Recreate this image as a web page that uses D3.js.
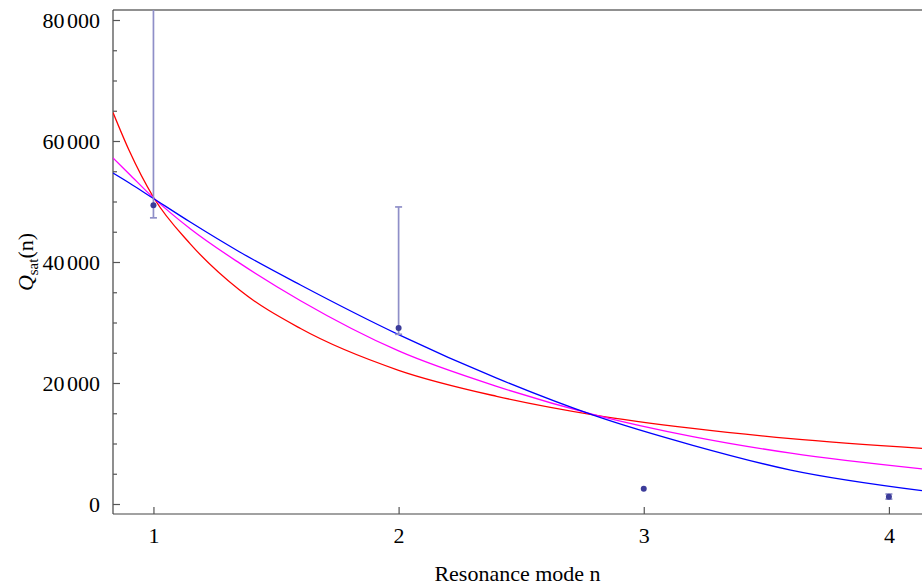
<!DOCTYPE html>
<html>
<head>
<meta charset="utf-8">
<script src="https://cdn.jsdelivr.net/npm/d3@7"></script>
<style>
  html, body { margin: 0; padding: 0; background: #fff; }
  svg { display: block; }
  text { font-family: "Liberation Serif", "Times New Roman", serif; }
</style>
</head>
<body>
<script>
// ---- data ----
const modeN = [1, 2, 3, 4];
const qSat = [49400, 29100, 2500, 1200];
const qLow = [47300, 28050, 2500, 800];
const qHigh = [90000, 49100, 2500, 1650];

const fitN = [0.835, 0.9, 1.0, 1.15, 1.35, 1.6, 2.0, 2.4, 2.8, 3.2, 3.6, 4.135];
const fitRed = [64700, 58500, 50700, 43000, 35400, 29000, 22100, 17800, 14700, 12500, 10800, 9200];
const fitMagenta = [57200, 54600, 50600, 45500, 39850, 33600, 25300, 19450, 14750, 11150, 8400, 5800];
const fitBlue = [54700, 53100, 50500, 46600, 41700, 36200, 28000, 20800, 14600, 9700, 5600, 2200];

const xTicks = [1, 2, 3, 4];
const yTicks = [0, 20000, 40000, 60000, 80000];
const yMinorTicks = [5000, 10000, 15000, 25000, 30000, 35000, 45000, 50000, 55000, 65000, 70000, 75000];
const xLabel = "Resonance mode n";

// ---- layout ----
const W = 922, H = 587;
const L = 113, R = 922, T = 10, B = 514;

const svg = d3.select("body").append("svg").attr("width", W).attr("height", H);

const x = d3.scaleLinear().domain([0.835, 4.135]).range([L, R]);
const y = d3.scaleLinear().domain([-1653, 81653]).range([B, T]);

svg.append("defs").append("clipPath").attr("id", "clip")
  .append("rect").attr("x", L).attr("y", T).attr("width", R - L).attr("height", B - T);

// axes frame
svg.append("line").attr("x1", L).attr("x2", R).attr("y1", T).attr("y2", T)
  .attr("stroke", "#222").attr("stroke-width", 1.2);
svg.append("line").attr("x1", L).attr("x2", R).attr("y1", B).attr("y2", B)
  .attr("stroke", "#444").attr("stroke-width", 1.2);
svg.append("line").attr("x1", L).attr("x2", L).attr("y1", T).attr("y2", B)
  .attr("stroke", "#444").attr("stroke-width", 1.2);

// y ticks
const yAxis = d3.axisLeft(y).tickValues(yTicks).tickSize(-7).tickPadding(13).tickFormat(d3.format("d"));
const gy = svg.append("g").attr("transform", `translate(${L},0)`).call(yAxis);
gy.select(".domain").remove();
gy.selectAll(".tick line").attr("stroke", "#555").attr("stroke-width", 1.2);
gy.selectAll(".tick text").attr("font-size", 22).attr("fill", "#000")
  .attr("font-family", "Liberation Serif, serif")
  .each(function (v) {
    const s = String(v);
    const t = d3.select(this).text(null);
    if (s.length > 3) {
      t.append("tspan").text(s.slice(0, s.length - 3));
      t.append("tspan").attr("dx", 2.5).text(s.slice(-3));
    } else {
      t.append("tspan").text(s);
    }
  });
const yAxisMinor = d3.axisLeft(y).tickValues(yMinorTicks).tickSize(-4).tickFormat("");
const gym = svg.append("g").attr("transform", `translate(${L},0)`).call(yAxisMinor);
gym.select(".domain").remove();
gym.selectAll(".tick line").attr("stroke", "#555").attr("stroke-width", 1.2);

// x ticks
const xAxis = d3.axisBottom(x).tickValues(xTicks).tickSize(-7).tickPadding(13).tickFormat(d3.format("d"));
const gx = svg.append("g").attr("transform", `translate(0,${B})`).call(xAxis);
gx.select(".domain").remove();
gx.selectAll(".tick line").attr("stroke", "#555").attr("stroke-width", 1.2);
gx.selectAll(".tick text").attr("font-size", 22).attr("fill", "#000")
  .attr("font-family", "Liberation Serif, serif");

// axis labels
svg.append("text").attr("x", (L + R) / 2).attr("y", 581)
  .attr("text-anchor", "middle").attr("font-size", 22).text(xLabel);

const yl = svg.append("text").attr("transform", `translate(33,${(T + B) / 2}) rotate(-90)`)
  .attr("text-anchor", "middle").attr("font-size", 22);
yl.append("tspan").attr("font-style", "italic").text("Q");
yl.append("tspan").attr("font-size", 15).attr("dy", 5).text("sat");
yl.append("tspan").attr("dy", -5).text("(n)");

// fit curves
const plot = svg.append("g").attr("clip-path", "url(#clip)");
const line = d3.line().x(d => x(d[0])).y(d => y(d[1])).curve(d3.curveMonotoneX);
[[fitRed, "#ff0000"], [fitMagenta, "#ff00ff"], [fitBlue, "#0000ff"]].forEach(([vals, col]) => {
  plot.append("path").datum(fitN.map((n, i) => [n, vals[i]]))
    .attr("d", line).attr("fill", "none").attr("stroke", col).attr("stroke-width", 1.3);
});

// error bars
const pts = modeN.map((n, i) => ({ n, v: qSat[i], lo: qLow[i], hi: qHigh[i] }));
const eb = plot.selectAll("g.eb").data(pts.filter(d => d.hi > d.lo)).enter().append("g");
const ebCol = "#8f8fc8";
eb.append("line").attr("x1", d => x(d.n)).attr("x2", d => x(d.n))
  .attr("y1", d => y(d.lo)).attr("y2", d => y(d.hi))
  .attr("stroke", ebCol).attr("stroke-width", 1.7);
eb.append("line").attr("x1", d => x(d.n) - 3.5).attr("x2", d => x(d.n) + 3.5)
  .attr("y1", d => y(d.lo)).attr("y2", d => y(d.lo))
  .attr("stroke", ebCol).attr("stroke-width", 1.7);
eb.append("line").attr("x1", d => x(d.n) - 3.5).attr("x2", d => x(d.n) + 3.5)
  .attr("y1", d => y(d.hi)).attr("y2", d => y(d.hi))
  .attr("stroke", ebCol).attr("stroke-width", 1.7);

// points
plot.selectAll("circle.pt").data(pts).enter().append("circle")
  .attr("cx", d => x(d.n)).attr("cy", d => y(d.v)).attr("r", 3)
  .attr("fill", "#3c3c9a");
</script>
</body>
</html>
